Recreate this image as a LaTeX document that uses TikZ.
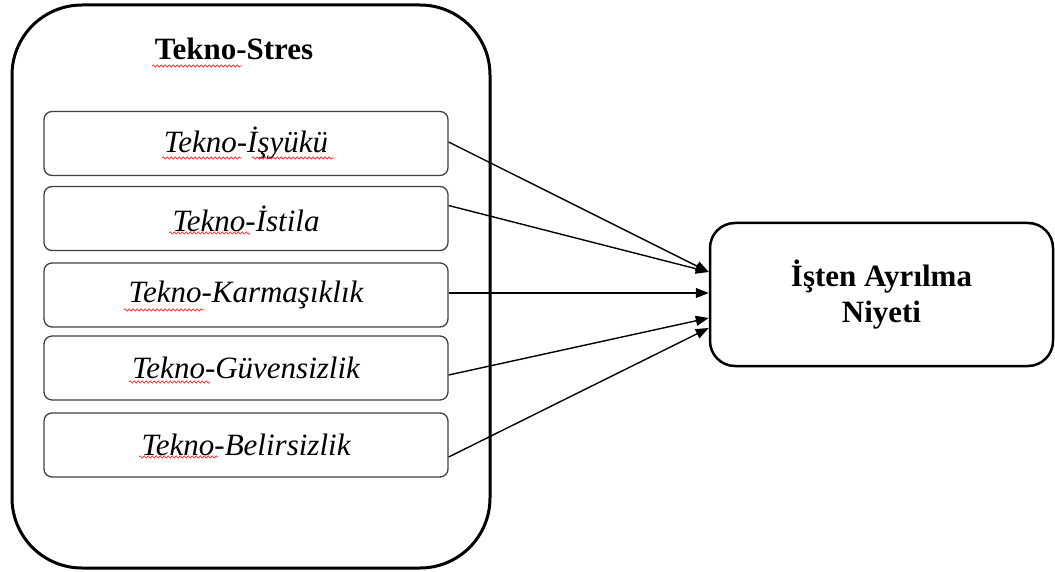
\documentclass[tikz,border=0pt]{standalone}
\usepackage{fontspec}
\setmainfont{Liberation Serif}
\usetikzlibrary{arrows.meta,decorations.pathmorphing}
\newcommand\buyuk{\fontsize{31}{36}\selectfont}

\begin{document}
\begin{tikzpicture}[x=1pt,y=-1pt,
    kutu/.style={draw=black!75,line width=1.3pt,rounded corners=8pt,
        minimum width=404pt,minimum height=64pt,inner sep=0pt,font=\buyuk\itshape},
    ok/.style={-{Triangle[length=13pt,width=10pt]},line width=1.4pt},
    dalga/.style={red!85,line width=0.7pt,decorate,
        decoration={snake,amplitude=1.1pt,segment length=4pt}}]
\useasboundingbox (0,0) rectangle (1055,572);
% big frame and its title
\node[draw,line width=3pt,rounded corners=70pt,minimum width=478pt,
    minimum height=563pt] (stres) at (251,286.5) {};
\node[font=\buyuk\bfseries,anchor=base] (baslik) at (234,60) {Tekno-Stres};
% the five dimensions
\node[kutu] (isyuku) at (246,143.5) {Tekno-İşyükü};
\node[kutu] (istila) at (246,218.5) {Tekno-İstila};
\node[kutu] (karmasik) at (246,295) {Tekno-Karmaşıklık};
\node[kutu] (guvensiz) at (246,368) {Tekno-Güvensizlik};
\node[kutu] (belirsiz) at (246,445) {Tekno-Belirsizlik};
% outcome
\node[draw,line width=2.5pt,rounded corners=25pt,minimum width=343pt,
    minimum height=143pt,align=center,font=\buyuk\bfseries]
    (niyet) at (881.5,294.5) {İşten Ayrılma\\Niyeti};
\draw[ok] ([yshift=1.5pt]isyuku.east) -- ([yshift=22.5pt]niyet.west);
\draw[ok] ([yshift=13pt]istila.east) -- ([yshift=22.5pt]niyet.west);
\draw[ok] ([yshift=2pt]karmasik.east) -- ([yshift=1.5pt]niyet.west);
\draw[ok] ([yshift=-7pt]guvensiz.east) -- ([yshift=-23.5pt]niyet.west);
\draw[ok] ([yshift=-12pt]belirsiz.east) -- ([yshift=-33.5pt]niyet.west);
% spell check marks
\draw[dalga] (152,66) -- (242,66);
\draw[dalga] (162,158) -- (242,158);
\draw[dalga] (252,158) -- (334,158);
\draw[dalga] (169,233) -- (250,233);
\draw[dalga] (124,310) -- (204,310);
\draw[dalga] (129,382) -- (210,382);
\draw[dalga] (139,457) -- (218,457);
\end{tikzpicture}
\end{document}
